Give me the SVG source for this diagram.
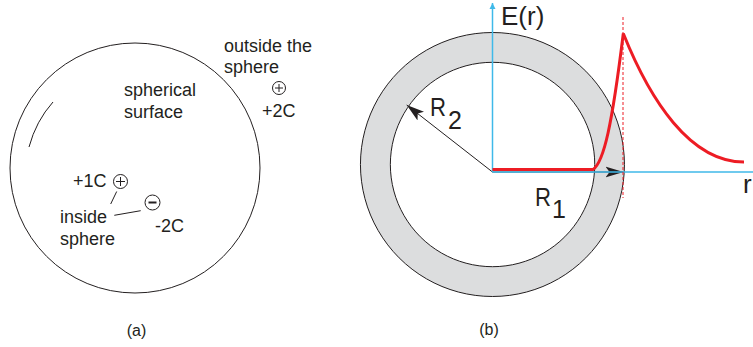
<svg xmlns="http://www.w3.org/2000/svg" width="753" height="347" viewBox="0 0 753 347">
<defs>
<style>
text{font-family:"Liberation Sans",Arial,sans-serif;fill:#231F20}
.t{font-size:18px}
.lbl{font-size:16px}
.big{font-size:26px}
.sub{font-size:25px}
.thin{fill:none;stroke:#231F20;stroke-width:1}
.chg{fill:#fff;stroke:#231F20;stroke-width:1}
.axis{fill:none;stroke:#3FB9E9;stroke-width:1.5}
.curve{fill:none;stroke:#ED1C24;stroke-width:3;stroke-linejoin:miter}
</style>
<marker id="blueArrow" markerWidth="8" markerHeight="8" refX="6" refY="4" orient="auto" markerUnits="userSpaceOnUse">
<path d="M0,1 L6,4 L0,7 Z" fill="#3FB9E9"/>
</marker>
<marker id="blackArrow" markerWidth="20" markerHeight="12" refX="18" refY="6" orient="auto" markerUnits="userSpaceOnUse">
<path d="M0,0.5 L18,6 L0,11.5 L4,6 Z" fill="#231F20"/>
</marker>
</defs>

<!-- Part (a) -->
<g id="sphere-a">
<circle cx="135" cy="168" r="125" class="thin"/>
<path d="M53,102 Q36,121 29,147" class="thin"/>
<text x="124" y="96" class="t">spherical</text>
<text x="124" y="118" class="t">surface</text>
</g>
<g id="outside-charge">
<text x="224" y="52" class="t">outside the</text>
<text x="224" y="73" class="t">sphere</text>
<circle cx="279" cy="88" r="6.5" class="chg"/>
<path d="M275,88 H283 M279,84 V92" class="thin"/>
<text x="262" y="117" class="t">+2C</text>
</g>
<g id="plus-charge">
<text x="73" y="187" class="t">+1C</text>
<circle cx="120.5" cy="181.5" r="7" class="chg"/>
<path d="M116,181.5 H125 M120.5,177 V186" class="thin"/>
</g>
<g id="minus-charge">
<circle cx="152.5" cy="202.5" r="7.5" class="chg"/>
<path d="M148.5,202.5 H156.5" fill="none" stroke="#231F20" stroke-width="2"/>
<text x="155" y="232" class="t">-2C</text>
</g>
<g id="inside-label">
<text x="60" y="223" class="t">inside</text>
<text x="60" y="245" class="t">sphere</text>
</g>
<g id="connectors-a">
<line x1="116.7" y1="191.5" x2="110.7" y2="204" class="thin"/>
<line x1="114.3" y1="215.3" x2="140.7" y2="210.7" class="thin"/>
</g>
<text x="136.5" y="336" class="lbl" text-anchor="middle">(a)</text>

<!-- Part (b) -->
<g id="shell">
<path d="M492.5,32.5 A132,132 0 1,1 492.4,32.5 Z M492.5,62.3 A102.2,102.2 0 1,0 492.6,62.3 Z" fill="#DCDDDE" fill-rule="evenodd" stroke="#231F20" stroke-width="1"/>
</g>
<g id="connectors-b">
<line x1="492.5" y1="172" x2="406.7" y2="105" stroke="#231F20" stroke-width="1" marker-end="url(#blackArrow)"/>
<line x1="492.5" y1="172" x2="623.5" y2="172" stroke="#231F20" stroke-width="1" marker-end="url(#blackArrow)"/>
<line x1="492.5" y1="172" x2="492.5" y2="3" class="axis" marker-end="url(#blueArrow)"/>
<line x1="492.5" y1="172" x2="753" y2="172" class="axis"/>
<line x1="623" y1="17" x2="623" y2="198" stroke="#ED1C24" stroke-width="1" stroke-dasharray="3,2"/>
<path d="M492.5,169.5 H593 C604,162 612,125 623.3,33.5 C650,100 690,162 744,162" class="curve"/>
</g>
<g id="labels-b">
<text x="501" y="25" class="big">E(r)</text>
<text x="743" y="193" class="big">r</text>
<text x="430" y="116" class="big" textLength="16" lengthAdjust="spacingAndGlyphs">R</text>
<text x="448" y="129" class="sub">2</text>
<text x="535" y="206" class="big" textLength="16" lengthAdjust="spacingAndGlyphs">R</text>
<text x="552" y="218" class="sub">1</text>
</g>
<text x="489" y="335" class="lbl" text-anchor="middle">(b)</text>
</svg>
